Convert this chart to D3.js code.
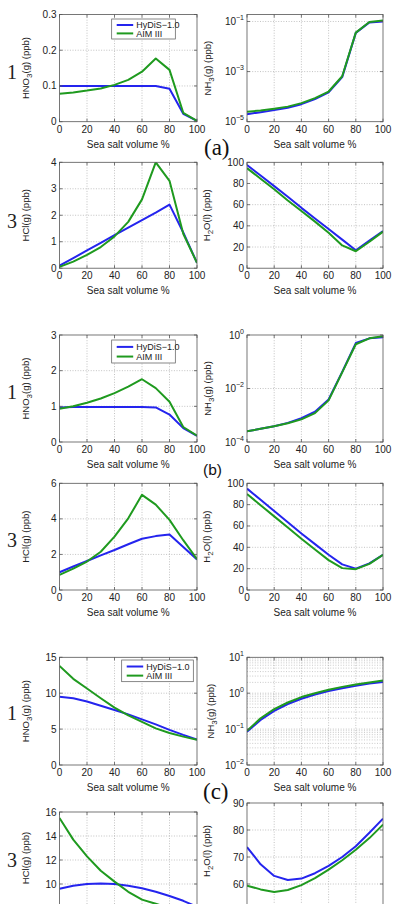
<!DOCTYPE html>
<html><head><meta charset="utf-8">
<script src="https://cdn.jsdelivr.net/npm/d3@7"></script>
<style>body{margin:0;background:#fff}svg{display:block}</style>
</head><body><svg id="c" width="397" height="904"></svg>
<script>
// ---------- data ----------
const salt = [0,10,20,30,40,50,60,70,80,90,100];
const xTicks = [0,20,40,60,80,100];
const seriesNames = ["HyDiS\u22121.0","AIM III"];

// (a)
const aHNO3_HyDiS = [0.1,0.1,0.1,0.1,0.1,0.1,0.1,0.1,0.092,0.022,0.002];
const aHNO3_AIM   = [0.078,0.082,0.087,0.093,0.103,0.117,0.14,0.177,0.145,0.025,0.002];
const aNH3_HyDiS  = [2.0e-5,2.4e-5,2.9e-5,3.6e-5,5.0e-5,8.0e-5,1.5e-4,6.0e-4,0.035,0.092,0.1];
const aNH3_AIM    = [2.5e-5,2.8e-5,3.3e-5,4.0e-5,5.5e-5,8.7e-5,1.6e-4,6.5e-4,0.036,0.095,0.11];
const aHCl_HyDiS  = [0.1,0.38,0.67,0.96,1.25,1.53,1.82,2.1,2.4,1.35,0.2];
const aHCl_AIM    = [0.05,0.25,0.5,0.8,1.2,1.75,2.6,4.0,3.3,1.3,0.2];
const aH2O_HyDiS  = [97.5,87.5,77.5,67.5,57,47,37,27,17,26,35];
const aH2O_AIM    = [94.5,84.5,74.5,64,54,44,33.5,21.5,16,25,34.5];
// (b)
const bHNO3_HyDiS = [0.97,0.98,0.98,0.98,0.98,0.98,0.98,0.97,0.77,0.39,0.17];
const bHNO3_AIM   = [0.93,1.0,1.1,1.22,1.37,1.55,1.76,1.51,1.13,0.42,0.18];
const bNH3_HyDiS  = [2.5e-4,3.1e-4,3.9e-4,5.2e-4,7.8e-4,1.35e-3,3.9e-3,0.042,0.5,0.75,0.82];
const bNH3_AIM    = [2.5e-4,3.1e-4,3.9e-4,5.0e-4,7.0e-4,1.2e-3,3.6e-3,0.04,0.45,0.75,0.9];
const bHCl_HyDiS  = [1.0,1.32,1.63,1.95,2.25,2.57,2.88,3.03,3.12,2.42,1.72];
const bHCl_AIM    = [0.85,1.2,1.6,2.15,3.0,4.03,5.35,4.8,3.94,2.8,1.73];
const bH2O_HyDiS  = [95,84.5,74,63.5,53,43,33,24,20,25,33];
const bH2O_AIM    = [90,79.5,69,58.5,48,38,28,20.5,19.5,24.5,33];
// (c)
const cHNO3_HyDiS = [9.5,9.3,8.85,8.25,7.65,7.05,6.35,5.65,4.9,4.2,3.55];
const cHNO3_AIM   = [13.8,12.0,10.65,9.3,8.0,6.9,6.0,5.1,4.45,3.95,3.5];
const cNH3_HyDiS  = [0.085,0.18,0.32,0.5,0.7,0.92,1.15,1.38,1.6,1.85,2.05];
const cNH3_AIM    = [0.09,0.2,0.36,0.55,0.78,1.0,1.25,1.5,1.75,2.0,2.25];
const cHCl_HyDiS  = [9.6,9.85,10.0,10.05,10.0,9.86,9.64,9.35,9.0,8.6,8.1];
const cHCl_AIM    = [15.5,13.7,12.3,11.1,10.2,9.35,8.7,8.35,8.0,7.7,7.4];
const cH2O_HyDiS  = [73.7,67.3,63,61.5,62,64,66.7,70,74,79,84.2];
const cH2O_AIM    = [59.4,58,57,57.8,59.6,62.2,65.3,68.8,72.7,77,82];

// tick label lists
const ticksHNO3a = [0,0.1,0.2,0.3];
const ticksHCla  = [0,1,2,3,4];
const ticksH2O   = [0,20,40,60,80,100];
const ticksHNO3b = [0,1,2,3];
const ticksHClb  = [0,2,4,6];
const ticksHNO3c = [0,5,10,15];
const ticksHClc  = [10,12,14,16];
const ticksH2Oc  = [60,70,80,90];
const ticksNH3a  = [1e-5,1e-3,1e-1];
const ticksNH3b  = [1e-4,1e-2,1];
const ticksNH3c  = [1e-2,1e-1,1,10];

// ---------- drawing ----------
const svg = d3.select("#c");
const BLUE = "#2424ee", GREEN = "#1f9a1f";
const SANS = "Liberation Sans, Arial, Helvetica, sans-serif";
const SERIF = "Liberation Serif, Times New Roman, serif";
const LX = [59.5, 197], RX = [247, 383];

const panels = [
 {x:LX, y:[14.5,121.7], dom:[0,0.3], ticks:ticksHNO3a, fmt:d=>d===0?"0":d3.format(".1f")(d), lab:["HNO","3","(g) (ppb)"], s:[aHNO3_HyDiS,aHNO3_AIM], legend:[111.7,19,175.3,39]},
 {x:RX, y:[14.5,121.7], log:true, dom:[1e-5,0.19], ticks:ticksNH3a, lab:["NH","3","(g) (ppb)"], s:[aNH3_HyDiS,aNH3_AIM], labx:211},
 {x:LX, y:[162.3,268.2], dom:[0,4], ticks:ticksHCla, lab:["HCl(g) (ppb)"], s:[aHCl_HyDiS,aHCl_AIM]},
 {x:RX, y:[162.3,268.2], dom:[0,100], ticks:ticksH2O, lab:["H","2","O(l) (ppb)"], s:[aH2O_HyDiS,aH2O_AIM], labx:210},
 {x:LX, y:[335,442], dom:[0,3], ticks:ticksHNO3b, lab:["HNO","3","(g) (ppb)"], s:[bHNO3_HyDiS,bHNO3_AIM], legend:[111.7,340,175.3,363]},
 {x:RX, y:[335,442], log:true, dom:[1e-4,1], ticks:ticksNH3b, lab:["NH","3","(g) (ppb)"], s:[bNH3_HyDiS,bNH3_AIM], labx:211},
 {x:LX, y:[483.3,590], dom:[0,6], ticks:ticksHClb, lab:["HCl(g) (ppb)"], s:[bHCl_HyDiS,bHCl_AIM]},
 {x:RX, y:[483.3,590], dom:[0,100], ticks:ticksH2O, lab:["H","2","O(l) (ppb)"], s:[bH2O_HyDiS,bH2O_AIM], labx:210},
 {x:LX, y:[657.3,765], dom:[0,15], ticks:ticksHNO3c, lab:["HNO","3","(g) (ppb)"], s:[cHNO3_HyDiS,cHNO3_AIM], legend:[121.7,660,193.3,681.7]},
 {x:RX, y:[657.3,765], log:true, minor:true, dom:[1e-2,10], ticks:ticksNH3c, lab:["NH","3","(g) (ppb)"], s:[cNH3_HyDiS,cNH3_AIM], labx:214},
 {x:LX, y:[812,908], dom:[8,16], ticks:ticksHClc, lab:["HCl(g) (ppb)"], s:[cHCl_HyDiS,cHCl_AIM], nolabel:true, laby:858},
 {x:RX, y:[803,911], dom:[50,90], ticks:ticksH2Oc, lab:["H","2","O(l) (ppb)"], s:[cH2O_HyDiS,cH2O_AIM], labx:210, nolabel:true, laby:851},
];

panels.forEach((p,i)=>{
  const x = d3.scaleLinear().domain([0,100]).range(p.x);
  const y = (p.log?d3.scaleLog():d3.scaleLinear()).domain(p.dom).range([p.y[1],p.y[0]]);
  const g = svg.append("g");
  const cid = "clip"+i;
  svg.append("clipPath").attr("id",cid).append("rect")
    .attr("x",p.x[0]).attr("y",p.y[0]).attr("width",p.x[1]-p.x[0]).attr("height",p.y[1]-p.y[0]);
  const grid = g.append("g").attr("stroke","#9a9a9a").attr("stroke-width",0.6).attr("stroke-dasharray","1,1.6").attr("clip-path",`url(#${cid})`);
  if(p.minor){
    const minors=[];
    for(let e=Math.log10(p.dom[0]); e<Math.log10(p.dom[1]); e++)
      for(let k=2;k<=9;k++) minors.push(k*Math.pow(10,e));
    grid.selectAll(".mn").data(minors).join("line")
      .attr("x1",p.x[0]).attr("x2",p.x[1]).attr("y1",d=>y(d)).attr("y2",d=>y(d)).attr("stroke","#a8a8a8");
  }
  grid.selectAll(".gx").data(xTicks.slice(1,-1)).join("line")
    .attr("x1",d=>x(d)).attr("x2",d=>x(d)).attr("y1",p.y[0]).attr("y2",p.y[1]);
  grid.selectAll(".gy").data(p.ticks.filter(t=>t>p.dom[0]&&t<p.dom[1])).join("line")
    .attr("x1",p.x[0]).attr("x2",p.x[1]).attr("y1",d=>y(d)).attr("y2",d=>y(d));

  const line = d3.line().x((d,j)=>x(salt[j])).y(d=>y(d));
  p.s.forEach((arr,k)=>{
    g.append("path").datum(arr).attr("d",line).attr("fill","none")
      .attr("stroke",k===0?BLUE:GREEN).attr("stroke-width",2).attr("stroke-linejoin","round")
      .attr("clip-path",`url(#${cid})`);
  });

  g.append("rect").attr("x",p.x[0]).attr("y",p.y[0]).attr("width",p.x[1]-p.x[0]).attr("height",p.y[1]-p.y[0])
    .attr("fill","none").attr("stroke","#555").attr("stroke-width",0.8);
  const tk = g.append("g").attr("stroke","#555").attr("stroke-width",0.8);
  xTicks.forEach(t=>{
    tk.append("line").attr("x1",x(t)).attr("x2",x(t)).attr("y1",p.y[1]).attr("y2",p.y[1]-3);
    tk.append("line").attr("x1",x(t)).attr("x2",x(t)).attr("y1",p.y[0]).attr("y2",p.y[0]+3);
  });
  p.ticks.forEach(t=>{
    tk.append("line").attr("x1",p.x[0]).attr("x2",p.x[0]+3).attr("y1",y(t)).attr("y2",y(t));
    tk.append("line").attr("x1",p.x[1]).attr("x2",p.x[1]-3).attr("y1",y(t)).attr("y2",y(t));
  });

  if(!p.nolabel){
    g.selectAll(".xl").data(xTicks).join("text")
      .attr("x",d=>x(d)).attr("y",p.y[1]+11).attr("text-anchor","middle")
      .attr("font-family",SANS).attr("font-size",10).attr("fill","#222").text(d=>d);
    g.append("text").attr("x",(p.x[0]+p.x[1])/2).attr("y",p.y[1]+26).attr("text-anchor","middle")
      .attr("font-family",SANS).attr("font-size",10).attr("fill","#222").text("Sea salt volume %");
  }
  p.ticks.forEach(t=>{
    const tx = g.append("text").attr("x",p.x[0]-3).attr("y",y(t)+3.5).attr("text-anchor","end")
      .attr("font-family",SANS).attr("font-size",10).attr("fill","#222");
    if(p.log){
      const e = Math.round(Math.log10(t));
      tx.append("tspan").text("10");
      tx.append("tspan").attr("dy",-5).attr("font-size",7).text(String(e).replace("-","\u2212"));
    } else {
      tx.text(p.fmt?p.fmt(t):t);
    }
  });
  const lx = p.labx || 29, ly = p.laby || (p.y[0]+p.y[1])/2;
  const yl = g.append("text").attr("transform",`translate(${lx},${ly}) rotate(-90)`).attr("text-anchor","middle")
    .attr("font-family",SANS).attr("font-size",9.5).attr("fill","#222");
  if(p.lab.length===1) yl.text(p.lab[0]);
  else {
    yl.append("tspan").text(p.lab[0]);
    yl.append("tspan").attr("dy",3).attr("font-size",8).text(p.lab[1]);
    yl.append("tspan").attr("dy",-3).text(p.lab[2]);
  }
  if(p.legend){
    const [x0,y0,x1,y1]=p.legend;
    g.append("rect").attr("x",x0).attr("y",y0).attr("width",x1-x0).attr("height",y1-y0)
      .attr("fill","#fff").attr("stroke","#555").attr("stroke-width",0.7);
    const h=(y1-y0);
    seriesNames.forEach((nm,k)=>{
      const yy = y0 + h*(k===0?0.3:0.72);
      g.append("line").attr("x1",x0+5).attr("x2",x0+21.5).attr("y1",yy).attr("y2",yy)
        .attr("stroke",k===0?BLUE:GREEN).attr("stroke-width",2);
      g.append("text").attr("x",x0+24.5).attr("y",yy+3.2).attr("font-family",SANS).attr("font-size",9)
        .attr("fill","#222").text(nm);
    });
  }
});

const marks = [["1",72],["3",221],["1",392],["3",540],["1",713],["3",860]];
marks.forEach(([t,yy])=>{
  svg.append("text").attr("x",12).attr("y",yy+7).attr("text-anchor","middle").attr("font-family",SERIF)
    .attr("font-size",20).attr("fill","#222").text(t);
});
svg.append("text").attr("x",204).attr("y",155).attr("font-family",SERIF).attr("font-size",23).attr("fill","#111").text("(a)");
svg.append("text").attr("x",203).attr("y",475).attr("font-family",SANS).attr("font-size",15.5).attr("fill","#111").text("(b)");
svg.append("text").attr("x",203).attr("y",799).attr("font-family",SERIF).attr("font-size",23).attr("fill","#111").text("(c)");
</script></body></html>
